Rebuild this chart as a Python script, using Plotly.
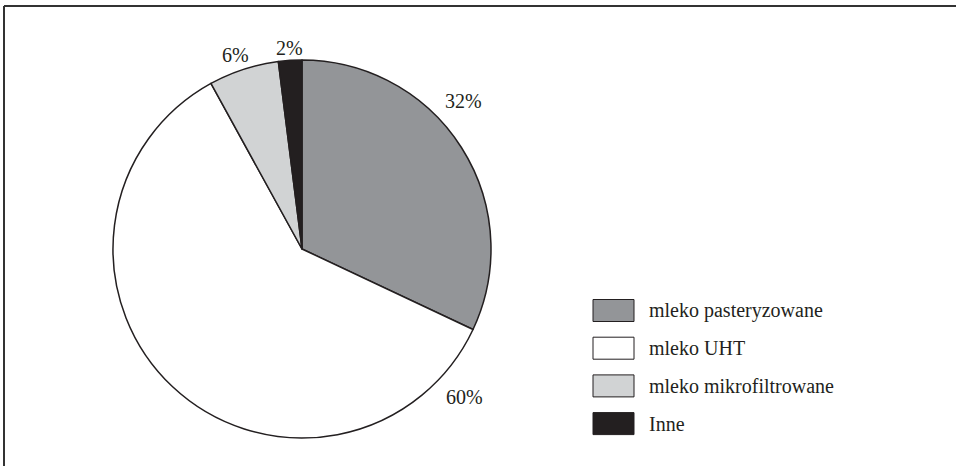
import plotly.graph_objects as go

categories = ["mleko pasteryzowane", "mleko UHT", "mleko mikrofiltrowane", "Inne"]
values = [32, 60, 6, 2]
colors = ["#939598", "#ffffff", "#d1d3d4", "#231f20"]
pct_labels = ["32%", "60%", "6%", "2%"]
# label anchor points (pixels) for percentage texts
label_px = [(463, 101), (464, 397), (235, 55), (289, 48)]

W, H = 956, 466
FONT = "Liberation Serif, Times New Roman, serif"
INK = "#231f20"

def px(x):
    return x / W

def py(y):
    return 1 - y / H

cx, cy, r = 302, 249, 189

fig = go.Figure(go.Pie(
    labels=categories,
    values=values,
    marker=dict(colors=colors, line=dict(color=INK, width=1.5)),
    sort=False,
    direction="clockwise",
    rotation=0,
    textinfo="none",
    hoverinfo="label+percent",
    showlegend=False,
    domain=dict(x=[px(cx - r), px(cx + r)], y=[py(cy + r), py(cy - r)]),
))

annotations = []
for t, (lx, ly) in zip(pct_labels, label_px):
    annotations.append(dict(
        x=px(lx), y=py(ly), xref="paper", yref="paper", text=t, showarrow=False,
        xanchor="center", yanchor="middle", font=dict(family=FONT, size=20, color=INK),
    ))

shapes = []
# frame (top and left)
shapes.append(dict(type="line", xref="paper", yref="paper", x0=px(4), x1=1.0, y0=py(6), y1=py(6),
                   line=dict(color="#333333", width=2)))
shapes.append(dict(type="line", xref="paper", yref="paper", x0=px(4), x1=px(4), y0=py(6), y1=0,
                   line=dict(color="#333333", width=2)))

# manual legend
leg_x0, leg_x1 = 593, 634
row0, row_step, sw_h = 310.5, 37.7, 22
for i, (cat, col) in enumerate(zip(categories, colors)):
    yc = row0 + i * row_step
    shapes.append(dict(type="rect", xref="paper", yref="paper",
                       x0=px(leg_x0), x1=px(leg_x1), y0=py(yc + sw_h / 2), y1=py(yc - sw_h / 2),
                       fillcolor=col, line=dict(color=INK, width=1)))
    annotations.append(dict(
        x=px(647), y=py(yc), xref="paper", yref="paper", text=cat, showarrow=False,
        xanchor="left", yanchor="middle", font=dict(family=FONT, size=20, color=INK),
    ))

fig.update_layout(
    width=W, height=H, autosize=False,
    margin=dict(l=0, r=0, t=0, b=0),
    paper_bgcolor="white", plot_bgcolor="white",
    shapes=shapes, annotations=annotations,
)

fig.write_html("out.html")
